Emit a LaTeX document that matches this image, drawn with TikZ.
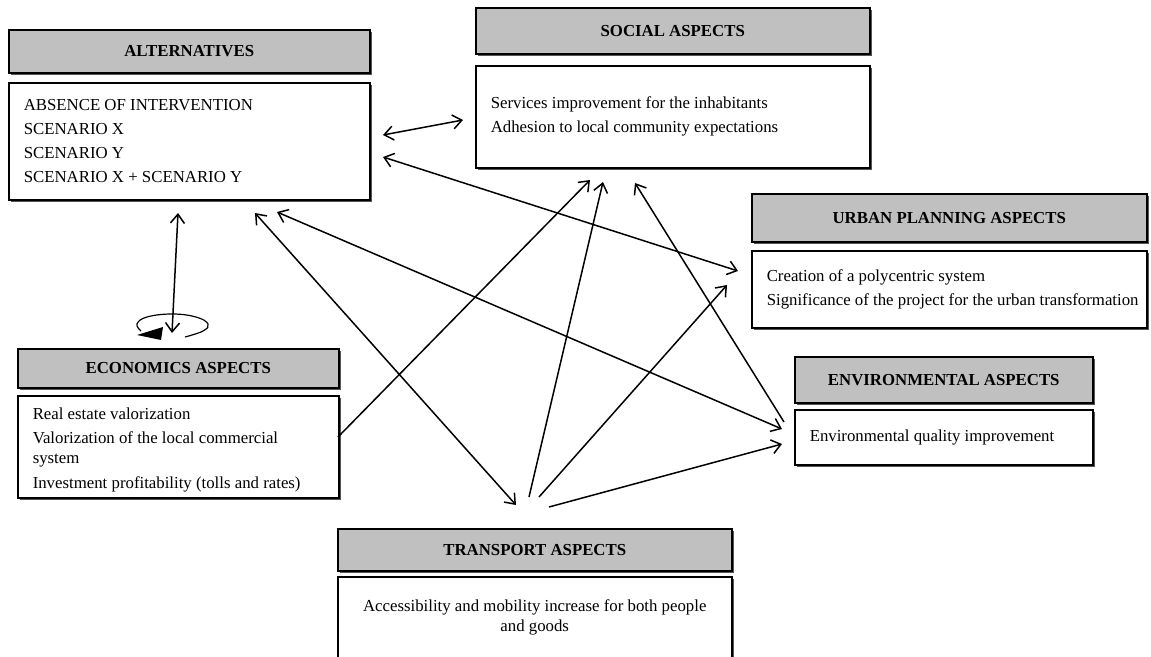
\documentclass[tikz,border=0pt]{standalone}
\usepackage{fontspec}
\setmainfont{Liberation Serif}
\usetikzlibrary{arrows.meta,shadows}
\definecolor{hdrgray}{RGB}{192,192,192}
\definecolor{shadowgray}{RGB}{85,85,85}
\tikzset{
  basebox/.style={draw=black, line width=1.5pt, anchor=north west, inner ysep=0pt,
    general shadow={fill=shadowgray, shadow xshift=2pt, shadow yshift=-2pt},
    font=\fontsize{16.8}{20}\selectfont},
  hdr/.style={basebox, fill=hdrgray, font=\fontsize{16.8}{20}\selectfont\bfseries, inner xsep=0pt},
  cbox/.style={basebox, fill=white, inner xsep=15pt, align=left,
    execute at begin node={\spaceskip=0.25em\relax\xspaceskip=0.25em\relax}},
  link/.style={line width=1.5pt, draw=black},
  two/.style={link, {Straight Barb[length=9pt,width=14pt,line width=1.5pt]}-{Straight Barb[length=9pt,width=14pt,line width=1.5pt]}},
  one/.style={link, -{Straight Barb[length=9pt,width=14pt,line width=1.5pt]}}
}
\begin{document}
\begin{tikzpicture}[x=1pt,y=-1pt]
\useasboundingbox (0,0) rectangle (1151,656);

% ALTERNATIVES
\node[hdr, minimum width=361pt, minimum height=43pt] (alth) at (8,29) {ALTERNATIVES};
\node[cbox, text width=331pt, minimum height=117pt] (altc) at (8,82)
  {\rule{0pt}{4pt}ABSENCE OF INTERVENTION\\[4pt]SCENARIO X\\[4pt]SCENARIO Y\\[4.5pt]SCENARIO X + SCENARIO Y};

% SOCIAL
\node[hdr, minimum width=394pt, minimum height=46pt] (soch) at (475,7) {SOCIAL ASPECTS};
\node[cbox, text width=364pt, minimum height=102pt] (socc) at (475,65)
  {Services improvement for the inhabitants\\[4pt]Adhesion to local community expectations};

% URBAN
\node[hdr, minimum width=395pt, minimum height=48pt] (urbh) at (751,193) {URBAN PLANNING ASPECTS};
\node[cbox, text width=365pt, minimum height=77pt] (urbc) at (751,250)
  {\mbox{Creation of a polycentric system}\\[4pt]\mbox{Significance of the project for the urban transformation}};

% ENVIRONMENTAL
\node[hdr, minimum width=298pt, minimum height=46pt] (envh) at (794,356) {ENVIRONMENTAL ASPECTS};
\node[cbox, text width=268pt, minimum height=55pt] (envc) at (794,409)
  {Environmental quality improvement};

% ECONOMICS
\node[hdr, minimum width=321pt, minimum height=39pt] (ecoh) at (17,348) {ECONOMICS ASPECTS};
\node[cbox, text width=291pt, minimum height=102pt] (ecoc) at (17,395)
  {\rule{0pt}{18pt}Real estate valorization\\[4pt]\mbox{Valorization of the local commercial}\\system\\[5pt]\mbox{Investment profitability (tolls and rates)}};

% TRANSPORT
\node[hdr, minimum width=394pt, minimum height=42pt] (trah) at (337,528) {TRANSPORT ASPECTS};
\node[cbox, text width=364pt, minimum height=82pt, align=center] (trac) at (337,576)
  {Accessibility and mobility increase for both people\\and goods};

% connector end points
\coordinate (altR1) at (383,135);
\coordinate (socL)  at (463,120);
\coordinate (altR2) at (383,157);
\coordinate (urbL1) at (738,271);
\coordinate (altB1) at (255,213);
\coordinate (traT1) at (516,505);
\coordinate (altB2) at (277,212);
\coordinate (envL1) at (782,429);
\coordinate (altB0) at (178,213);
\coordinate (ecoT)  at (172,333);
\coordinate (ecoR)  at (338,437);
\coordinate (socB1) at (590,180);
\coordinate (traT2) at (529,497);
\coordinate (socB2) at (603,182);
\coordinate (traT3) at (539,497);
\coordinate (urbL2) at (727,285);
\coordinate (envL0) at (784,422);
\coordinate (socB3) at (635,183);
\coordinate (traT4) at (549,507);
\coordinate (envL2) at (782,444);

\draw[two] (altR1) -- (socL);
\draw[two] (altR2) -- (urbL1);
\draw[two] (altB1) -- (traT1);
\draw[two] (altB2) -- (envL1);
\draw[two] (altB0) -- (ecoT);
\draw[one] (ecoR) -- (socB1);
\draw[one] (traT2) -- (socB2);
\draw[one] (traT3) -- (urbL2);
\draw[one] (envL0) -- (socB3);
\draw[one] (traT4) -- (envL2);

% circular arrow above ECONOMICS ASPECTS
\draw[line width=1.2pt] plot[smooth, tension=0.7] coordinates
  {(185,337) (203,331) (208,324) (196,317) (172,314) (147,317) (137,324) (141,331)};
\fill (137,335) -- (163,327) -- (161,340) -- cycle;
\end{tikzpicture}
\end{document}
